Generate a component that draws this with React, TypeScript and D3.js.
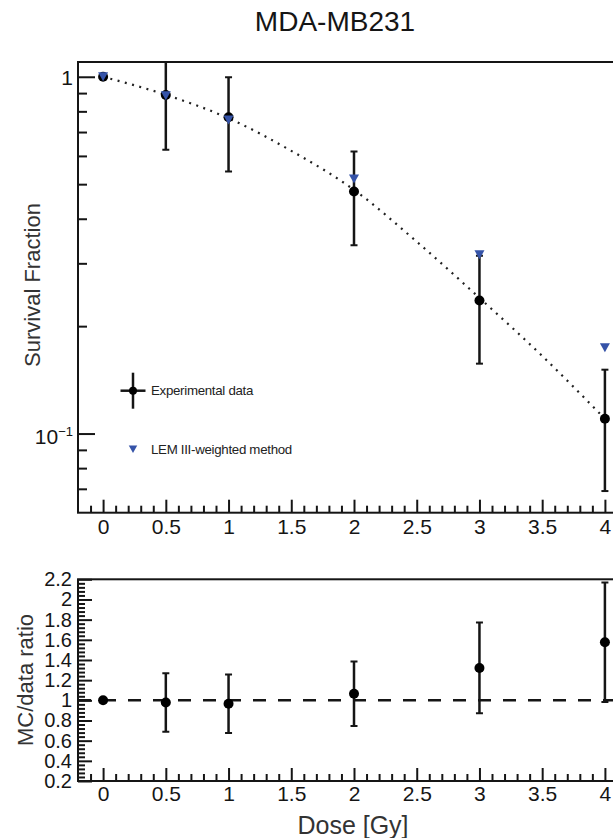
import React, { useEffect, useRef } from 'react'
import * as d3 from 'd3'

// dose points [Gy]
const doses = [0, 0.5, 1, 2, 3, 4]
// experimental survival fraction and errors
const survival = [1.0, 0.889, 0.77, 0.477, 0.236, 0.11]
const survivalErr = [0, 0.265, 0.227, 0.14, 0.079, 0.041]
// LEM III-weighted method
const lemIII = [1.0, 0.885, 0.757, 0.517, 0.317, 0.174]
// dotted fit curve
const fitDoses = [0, 0.5, 1, 1.5, 2, 2.5, 3, 3.5, 4]
const fitSurvival = [1.0, 0.89, 0.765, 0.62, 0.482, 0.345, 0.24, 0.165, 0.11]
// MC / data ratio
const ratio = [1.0, 0.979, 0.966, 1.066, 1.321, 1.576]
const ratioErr = [0, 0.29, 0.29, 0.32, 0.45, 0.593]

const doseTicks = ['0', '0.5', '1', '1.5', '2', '2.5', '3', '3.5', '4']
const ratioTicks = ['0.2', '0.4', '0.6', '0.8', '1', '1.2', '1.4', '1.6', '1.8', '2', '2.2']
const legendLabels = ['Experimental data', 'LEM III-weighted method']

const FONT = 'Liberation Sans, Arial, Helvetica, sans-serif'
const INK = '#151515'
const BLUE = '#3553a8'

export default function App() {
  const ref = useRef<SVGSVGElement>(null)

  useEffect(() => {
    const svg = d3.select(ref.current)
    svg.selectAll('*').remove()

    const left = 78, right = 630
    const top1 = 62, bottom1 = 512.7
    const top2 = 579.3, bottom2 = 781

    const x = d3.scaleLinear().domain([-0.2, 4.2]).range([left, right])
    const y1 = d3.scaleLog().domain([0.06, 1.1]).range([bottom1, top1])
    const y2 = d3.scaleLinear().domain([0.2, 2.2]).range([bottom2, top2])

    const styleAxis = (g, size) => {
      g.select('.domain').remove()
      g.selectAll('line').attr('stroke', INK).attr('stroke-width', 2)
      g.selectAll('text').attr('fill', INK).attr('font-family', FONT).attr('font-size', size)
    }

    const minorX = d3.range(-1, 42).map(i => i / 10).filter(v => Math.abs(v * 2 - Math.round(v * 2)) > 1e-6)

    const drawDoseAxis = (yPos, pad) => {
      svg.append('g')
        .attr('transform', `translate(0,${yPos})`)
        .call(d3.axisBottom(x).tickValues(minorX).tickSizeInner(-7).tickSizeOuter(0).tickFormat(() => ''))
        .call(g => styleAxis(g, 21))
      svg.append('g')
        .attr('transform', `translate(0,${yPos})`)
        .call(d3.axisBottom(x).tickValues(doseTicks.map(Number)).tickSizeInner(-13).tickSizeOuter(0)
          .tickPadding(pad).tickFormat((d, i) => doseTicks[i]))
        .call(g => styleAxis(g, 21))
    }

    // ---------- upper panel ----------
    svg.append('defs').append('clipPath').attr('id', 'clip1')
      .append('rect').attr('x', left).attr('y', top1).attr('width', right - left).attr('height', bottom1 - top1)
    svg.append('defs').append('clipPath').attr('id', 'clip2')
      .append('rect').attr('x', left).attr('y', top2).attr('width', right - left).attr('height', bottom2 - top2)

    drawDoseAxis(bottom1, 6)

    // log y ticks
    const minorY1 = [0.9, 0.8, 0.7, 0.6, 0.5, 0.4, 0.3, 0.2, 0.09, 0.08, 0.07]
    svg.append('g')
      .attr('transform', `translate(${left},0)`)
      .call(d3.axisLeft(y1).tickValues(minorY1).tickSizeInner(-9).tickSizeOuter(0).tickFormat(() => ''))
      .call(g => styleAxis(g, 20))
    svg.append('g')
      .attr('transform', `translate(${left},0)`)
      .call(d3.axisLeft(y1).tickValues([1, 0.1]).tickSizeInner(-17).tickSizeOuter(0).tickFormat(() => ''))
      .call(g => styleAxis(g, 20))

    svg.append('text')
      .attr('x', 73).attr('y', y1(1) + 8)
      .attr('text-anchor', 'end').attr('font-family', FONT).attr('font-size', 21).attr('fill', INK)
      .text('1')
    const dec = svg.append('text')
      .attr('x', 73).attr('y', y1(0.1) + 10)
      .attr('text-anchor', 'end').attr('font-family', FONT).attr('font-size', 21).attr('fill', INK)
    dec.append('tspan').text('10')
    dec.append('tspan').attr('dy', -8).attr('font-size', 13).text('\u22121')

    const plot1 = svg.append('g').attr('clip-path', 'url(#clip1)')

    // dotted curve
    const line = d3.line<number>()
      .x((d, i) => x(fitDoses[i]))
      .y(d => y1(d))
      .curve(d3.curveMonotoneX)
    plot1.append('path')
      .attr('d', line(fitSurvival))
      .attr('fill', 'none')
      .attr('stroke', '#222')
      .attr('stroke-width', 2.2)
      .attr('stroke-dasharray', '2,5.5')

    // error bars
    doses.forEach((d, i) => {
      const e = survivalErr[i]
      if (!e) return
      const cx = x(d), yt = y1(survival[i] + e), yb = y1(survival[i] - e)
      plot1.append('line').attr('x1', cx).attr('x2', cx).attr('y1', yt).attr('y2', yb)
        .attr('stroke', INK).attr('stroke-width', 2.5)
      ;[yt, yb].forEach(yy => plot1.append('line')
        .attr('x1', cx - 3.5).attr('x2', cx + 3.5).attr('y1', yy).attr('y2', yy)
        .attr('stroke', INK).attr('stroke-width', 2))
    })

    plot1.selectAll('circle.exp')
      .data(doses).enter()
      .append('circle')
      .attr('class', 'exp')
      .attr('cx', d => x(d))
      .attr('cy', (d, i) => y1(survival[i]))
      .attr('r', 5)
      .attr('fill', '#000')

    const tri = (cx, cy, w, h) => `M${cx - w / 2},${cy - h / 2}L${cx + w / 2},${cy - h / 2}L${cx},${cy + h / 2}Z`

    plot1.selectAll('path.lem')
      .data(doses).enter()
      .append('path')
      .attr('class', 'lem')
      .attr('d', (d, i) => tri(x(d), y1(lemIII[i]), 10, 9))
      .attr('fill', BLUE)

    // legend
    const lx = 133
    const ly1 = 390.7, ly2 = 449.3
    svg.append('line').attr('x1', lx - 12.5).attr('x2', lx + 12.5).attr('y1', ly1).attr('y2', ly1)
      .attr('stroke', INK).attr('stroke-width', 2.5)
    svg.append('line').attr('x1', lx).attr('x2', lx).attr('y1', ly1 - 18).attr('y2', ly1 + 18)
      .attr('stroke', INK).attr('stroke-width', 2.5)
    svg.append('circle').attr('cx', lx).attr('cy', ly1).attr('r', 4).attr('fill', '#000')
    svg.append('path').attr('d', tri(lx, ly2, 8.5, 7.5)).attr('fill', BLUE)
    ;[ly1, ly2].forEach((ly, i) => svg.append('text')
      .attr('x', 151).attr('y', ly + 4.7)
      .attr('font-family', FONT).attr('font-size', 13.3).attr('letter-spacing', -0.3).attr('fill', '#222')
      .text(legendLabels[i]))

    // frame
    svg.append('rect')
      .attr('x', left).attr('y', top1).attr('width', right - left).attr('height', bottom1 - top1)
      .attr('fill', 'none').attr('stroke', INK).attr('stroke-width', 2)

    // ---------- lower panel ----------
    drawDoseAxis(bottom2, 5)

    const minorY2 = d3.range(5, 56).map(i => i / 25).filter(v => Math.abs(v * 5 - Math.round(v * 5)) > 1e-6)
    svg.append('g')
      .attr('transform', `translate(${left},0)`)
      .call(d3.axisLeft(y2).tickValues(minorY2).tickSizeInner(-7).tickSizeOuter(0).tickFormat(() => ''))
      .call(g => styleAxis(g, 20))
    svg.append('g')
      .attr('transform', `translate(${left},0)`)
      .call(d3.axisLeft(y2).tickValues(ratioTicks.map(Number)).tickSizeInner(-14).tickSizeOuter(0)
        .tickPadding(6).tickFormat((d, i) => ratioTicks[i]))
      .call(g => styleAxis(g, 20))

    const plot2 = svg.append('g').attr('clip-path', 'url(#clip2)')

    plot2.append('line')
      .attr('x1', left).attr('x2', right).attr('y1', y2(1)).attr('y2', y2(1))
      .attr('stroke', INK).attr('stroke-width', 2.5).attr('stroke-dasharray', '13,12')

    doses.forEach((d, i) => {
      const e = ratioErr[i]
      if (!e) return
      const cx = x(d), yt = y2(ratio[i] + e), yb = y2(ratio[i] - e)
      plot2.append('line').attr('x1', cx).attr('x2', cx).attr('y1', yt).attr('y2', yb)
        .attr('stroke', INK).attr('stroke-width', 2.5)
      ;[yt, yb].forEach(yy => plot2.append('line')
        .attr('x1', cx - 3.5).attr('x2', cx + 3.5).attr('y1', yy).attr('y2', yy)
        .attr('stroke', INK).attr('stroke-width', 2))
    })

    plot2.selectAll('circle.ratio')
      .data(doses).enter()
      .append('circle')
      .attr('class', 'ratio')
      .attr('cx', d => x(d))
      .attr('cy', (d, i) => y2(ratio[i]))
      .attr('r', 5)
      .attr('fill', '#000')

    svg.append('rect')
      .attr('x', left).attr('y', top2).attr('width', right - left).attr('height', bottom2 - top2)
      .attr('fill', 'none').attr('stroke', INK).attr('stroke-width', 2)

    // titles
    svg.append('text')
      .attr('x', 335).attr('y', 31)
      .attr('text-anchor', 'middle').attr('font-family', FONT).attr('font-size', 28).attr('fill', INK)
      .text('MDA-MB231')
    svg.append('text')
      .attr('transform', 'translate(40,285) rotate(-90)')
      .attr('text-anchor', 'middle').attr('font-family', FONT).attr('font-size', 22).attr('fill', '#333')
      .text('Survival Fraction')
    svg.append('text')
      .attr('transform', 'translate(33,680) rotate(-90)')
      .attr('text-anchor', 'middle').attr('font-family', FONT).attr('font-size', 22).attr('fill', '#333')
      .text('MC/data ratio')
    svg.append('text')
      .attr('x', 353).attr('y', 834)
      .attr('text-anchor', 'middle').attr('font-family', FONT).attr('font-size', 25).attr('fill', '#333')
      .text('Dose [Gy]')
  }, [])

  return <svg ref={ref} width={613} height={838} style={{ position: 'absolute', left: 0, top: 0, background: '#fff' }} />
}
